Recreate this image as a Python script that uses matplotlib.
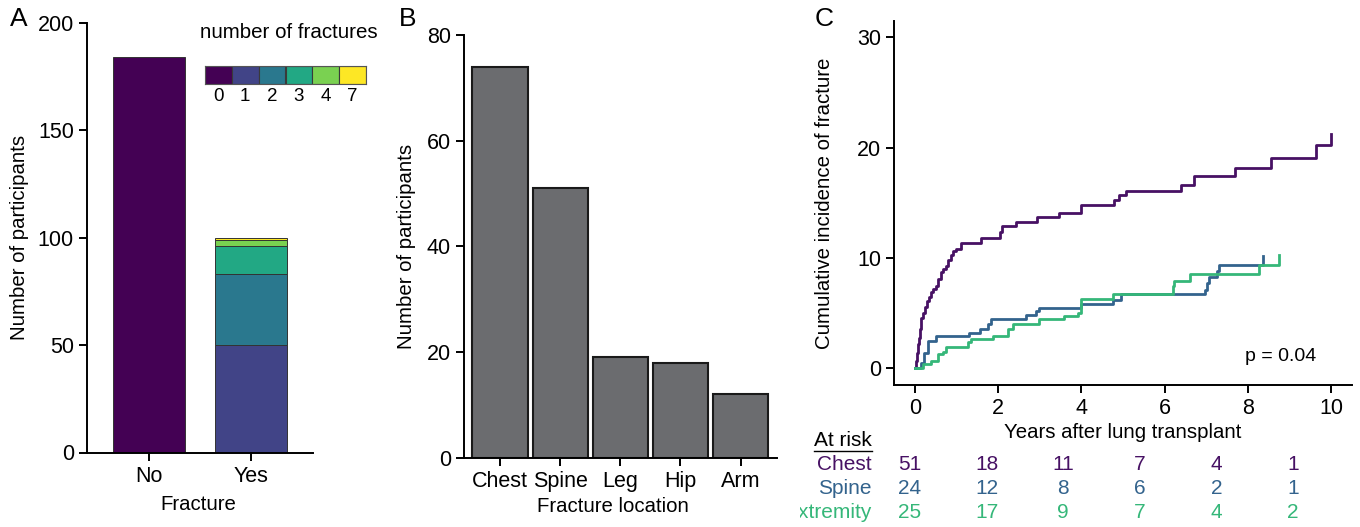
import matplotlib
matplotlib.use("Agg")
import matplotlib.pyplot as plt
from matplotlib.lines import Line2D

plt.rcParams['font.family'] = ['Liberation Sans', 'DejaVu Sans']

W, H = 1360, 527

# --- panel A: fracture yes/no, stacked by number of fractures
fracture_groups = ["No", "Yes"]
no_fracture_count = 184
fracture_number_levels = ["0", "1", "2", "3", "4", "7"]
yes_counts_by_number = [50, 33, 13, 3, 1]   # 1, 2, 3, 4, 7 fractures
viridis6 = ["#440154", "#414487", "#2a788e", "#22a884", "#7ad151", "#fde725"]

# --- panel B: fracture location
locations = ["Chest", "Spine", "Leg", "Hip", "Arm"]
location_counts = [74, 51, 19, 18, 12]

# --- panel C: cumulative incidence (step curves)
chest_t = [0, 0.02, 0.04, 0.06, 0.09, 0.12, 0.15, 0.19, 0.24, 0.28, 0.33, 0.38, 0.44,
           0.50, 0.56, 0.62, 0.68, 0.74, 0.80, 0.86, 0.92, 0.98, 1.10, 1.58, 2.03, 2.08,
           2.42, 2.94, 3.45, 3.99, 4.79, 4.91, 5.07, 6.39, 6.71, 7.70, 8.57, 9.64, 10.0]
chest_v = [0, 0.7, 1.4, 2.2, 2.8, 3.6, 4.6, 5.0, 5.6, 6.1, 6.5, 6.9, 7.2,
           7.5, 8.1, 8.7, 9.0, 9.3, 9.8, 10.3, 10.6, 10.8, 11.4, 11.8, 12.4, 12.9,
           13.3, 13.7, 14.1, 14.8, 15.3, 15.7, 16.1, 16.6, 17.4, 18.2, 19.1, 20.2, 21.2]

spine_t = [0, 0.15, 0.22, 0.30, 0.50, 1.30, 1.55, 1.75, 1.83, 2.67, 2.91, 2.99, 3.99,
           4.75, 4.95, 6.98, 7.03, 7.08, 7.25, 7.30, 8.36]
spine_v = [0, 0.5, 1.4, 2.5, 2.9, 3.25, 3.6, 4.0, 4.45, 4.8, 5.2, 5.5, 5.85,
           6.2, 6.7, 7.1, 7.7, 8.3, 8.8, 9.4, 10.2]

extremity_t = [0, 0.18, 0.38, 0.54, 0.66, 0.74, 1.27, 1.35, 1.87, 2.23, 2.35, 2.99, 3.59,
               3.91, 3.99, 4.75, 6.20, 6.23, 6.60, 8.28, 8.76]
extremity_v = [0, 0.4, 0.7, 1.3, 1.5, 1.9, 2.35, 2.65, 2.95, 3.55, 4.0, 4.45, 4.75,
               5.05, 6.25, 6.7, 7.5, 7.9, 8.6, 9.4, 10.3]

risk_times = [0, 2, 4, 6, 8, 10]
risk_chest = [51, 18, 11, 7, 4, 1]
risk_spine = [24, 12, 8, 6, 2, 1]
risk_extremity = [25, 17, 9, 7, 4, 2]

c_chest, c_spine, c_ext = "#471164", "#33638d", "#35b779"
TICK = 15.5
LAB = 14.7
TAB = 15


def box(l, t, r, b):
    # pixel box -> figure fraction
    return [l / W, 1 - b / H, (r - l) / W, (b - t) / H]


def ftext(x, y, s, **kw):
    return fig.text(x / W, 1 - y / H, s, **kw)


def style(ax):
    for s in ["top", "right"]:
        ax.spines[s].set_visible(False)
    for s in ["left", "bottom"]:
        ax.spines[s].set_linewidth(1.4)
    ax.tick_params(width=1.4, length=5.5, labelsize=TICK, pad=4, color="black")


fig = plt.figure(figsize=(13.6, 5.27), dpi=100)

# ---------------- A
axA = fig.add_axes(box(87, 22.7, 313, 452.5))
axA.bar(1, no_fracture_count, width=0.7, color=viridis6[0], edgecolor="#333333", linewidth=0.7)
bottom = 0
for cnt, col in zip(yes_counts_by_number, viridis6[1:]):
    axA.bar(2, cnt, bottom=bottom, width=0.7, color=col, edgecolor="#333333", linewidth=0.7)
    bottom += cnt
axA.set_xlim(0.4, 2.6)
axA.set_ylim(0, 200)
axA.set_xticks([1, 2], fracture_groups)
axA.set_yticks([0, 50, 100, 150, 200])
style(axA)

# legend drawn as a small colour strip
axL = fig.add_axes(box(205, 65.7, 366, 84.3))
axL.bar(range(len(viridis6)), [1] * len(viridis6), width=1, color=viridis6,
        edgecolor="#3a3a3a", linewidth=0.8)
axL.set_xlim(-0.5, len(viridis6) - 0.5)
axL.set_ylim(0, 1)
axL.set_yticks([])
axL.set_xticks(range(len(viridis6)), fracture_number_levels)
axL.tick_params(length=0, labelsize=13.5, pad=3)
for s in axL.spines.values():
    s.set_color("#555555")
    s.set_linewidth(0.8)
ftext(289, 33, "number of fractures", ha="center", va="center", fontsize=14.8)

ftext(19, 19, "A", ha="center", va="center", fontsize=19)
ftext(20, 237, "Number of participants", rotation=90, ha="center", va="center", fontsize=LAB)
ftext(198, 505, "Fracture", ha="center", va="center", fontsize=LAB)

# ---------------- B
axB = fig.add_axes(box(464, 35, 776.7, 457.7))
axB.bar(range(1, len(locations) + 1), location_counts, width=0.92,
        color="#6b6c6f", edgecolor="#1a1a1a", linewidth=1.5)
axB.set_xlim(0.4, len(locations) + 0.6)
axB.set_ylim(0, 80)
axB.set_xticks(range(1, len(locations) + 1), locations)
axB.set_yticks([0, 20, 40, 60, 80])
style(axB)

ftext(408, 19, "B", ha="center", va="center", fontsize=19)
ftext(406, 246, "Number of participants", rotation=90, ha="center", va="center", fontsize=LAB)
ftext(613, 507, "Fracture location", ha="center", va="center", fontsize=LAB)

# ---------------- C
axC = fig.add_axes(box(894.3, 20.7, 1351.7, 385))
axC.step(chest_t, chest_v, where="post", color=c_chest, linewidth=2)
axC.step(spine_t, spine_v, where="post", color=c_spine, linewidth=2)
axC.step(extremity_t, extremity_v, where="post", color=c_ext, linewidth=2)
axC.set_xlim(-0.5, 10.5)
axC.set_ylim(-1.5, 31.5)
axC.set_xticks(risk_times)
axC.set_yticks([0, 10, 20, 30])
style(axC)
axC.text(8.78, 1.1, "p = 0.04", ha="center", va="center", fontsize=14)

ftext(824, 19, "C", ha="center", va="center", fontsize=19)
ftext(825, 203, "Cumulative incidence of fracture", rotation=90, ha="center", va="center", fontsize=LAB)
ftext(1123, 433, "Years after lung transplant", ha="center", va="center", fontsize=LAB)

# at-risk table, clipped at the left edge of the panel
axT = fig.add_axes(box(800, 428, 1352, 527))
axT.set_xlim(-2.872, 11.54)
axT.set_ylim(3.625, -0.5)
axT.axis("off")
label_x = (872 - 910) / 38.3
hdr = axT.text(label_x, 0, "At risk", ha="right", va="center", fontsize=TAB, clip_on=True)
rows = [("Chest", risk_chest, c_chest), ("Spine", risk_spine, c_spine),
        ("Extremity", risk_extremity, c_ext)]
for i, (name, counts, col) in enumerate(rows, start=1):
    axT.text(label_x, i, name, ha="right", va="center", fontsize=TAB, color=col, clip_on=True)
    for t, n in zip(risk_times, counts):
        axT.text(t, i, str(n), ha="center", va="center", fontsize=TAB, color=col)

fig.canvas.draw()
bb = hdr.get_window_extent()
fig.add_artist(Line2D([bb.x0 / W, bb.x1 / W], [(bb.y0 - 1) / H, (bb.y0 - 1) / H],
                      color="black", linewidth=1.0))

fig.savefig("out.png", dpi=100)
